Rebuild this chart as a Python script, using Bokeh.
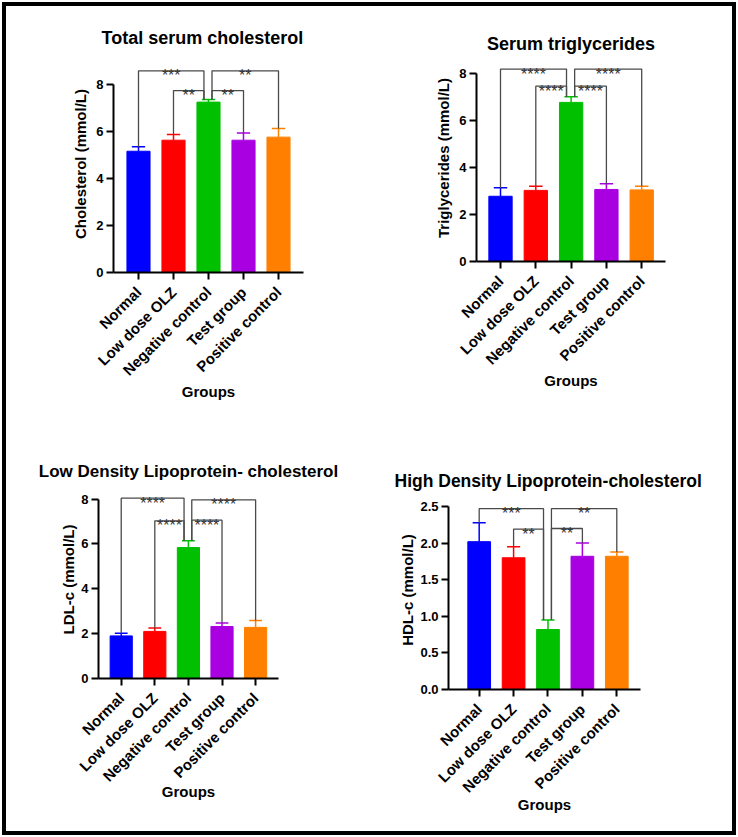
import math

from bokeh.core.properties import value
from bokeh.embed import file_html
from bokeh.layouts import column, row
from bokeh.models import ColumnDataSource, FixedTicker, NumeralTickFormatter
from bokeh.plotting import figure
from bokeh.resources import INLINE

# ---------------------------------------------------------------- data
groups = ["Normal", "Low dose OLZ", "Negative control", "Test group", "Positive control"]
bar_colors = ["#0000FF", "#FF0000", "#00C000", "#A800E0", "#FF8000"]

# mean and upper error (SD) for each group, mmol/L
chol_mean = [5.16, 5.63, 7.25, 5.63, 5.76]
chol_err = [0.19, 0.24, 0.11, 0.31, 0.37]

tg_mean = [2.78, 3.03, 6.78, 3.07, 3.05]
tg_err = [0.36, 0.18, 0.24, 0.24, 0.16]

ldl_mean = [1.90, 2.10, 5.84, 2.32, 2.28]
ldl_err = [0.12, 0.15, 0.30, 0.16, 0.31]

hdl_mean = [2.02, 1.80, 0.82, 1.82, 1.82]
hdl_err = [0.26, 0.15, 0.13, 0.18, 0.06]

# significance brackets: (group a, group b, bracket height, label)
chol_sig = [(0, 2, 8.58, "***"), (1, 2, 7.74, "**"), (2, 3, 7.74, "**"), (2, 4, 8.58, "**")]
tg_sig = [(0, 2, 8.20, "****"), (1, 2, 7.47, "****"), (2, 3, 7.47, "****"), (2, 4, 8.20, "****")]
ldl_sig = [(0, 2, 8.04, "****"), (1, 2, 7.03, "****"), (2, 3, 7.06, "****"), (2, 4, 7.97, "****")]
hdl_sig = [(0, 2, 2.47, "***"), (1, 2, 2.19, "**"), (2, 3, 2.20, "**"), (2, 4, 2.47, "**")]

chol_ticks = [0, 2, 4, 6, 8]
tg_ticks = [0, 2, 4, 6, 8]
ldl_ticks = [0, 2, 4, 6, 8]
hdl_ticks = [0.0, 0.5, 1.0, 1.5, 2.0, 2.5]

FONT = "Liberation Sans"
REF = 2  # the group every bracket is drawn against


def bar_panel(title, ylabel, means, errs, sig, yticks, y_end, x_lim, borders,
              size, title_size="18px", title_standoff=0, title_offset=None,
              ylab_standoff=4, xlab_standoff=8, fmt=None):
    left, right, top, bottom = borders
    width, height = size
    p = figure(width=width, height=height, x_range=x_lim, y_range=(0, y_end),
               output_backend="svg", toolbar_location=None,
               min_border_left=left, min_border_right=right,
               min_border_top=top, min_border_bottom=bottom)
    p.frame_align = False
    p.background_fill_alpha = 0
    p.border_fill_alpha = 0
    p.outline_line_color = None
    p.grid.visible = False

    p.title.text = title
    if title_offset is None:
        p.title.align = "center"
    else:
        p.title.align = "left"
        p.title.offset = title_offset
    p.title.text_font = FONT
    p.title.text_font_size = title_size
    p.title.text_font_style = "bold"
    p.title.text_color = "black"
    p.title.standoff = title_standoff

    xs = list(range(len(groups)))
    tops = [m + e for m, e in zip(means, errs)]
    src = ColumnDataSource(dict(x=xs, mean=means, top=tops, color=bar_colors,
                                cl=[x - 0.19 for x in xs], cr=[x + 0.19 for x in xs]))
    p.vbar(x="x", top="mean", bottom=0, width=0.66, fill_color="color",
           line_color="color", line_width=1, source=src)
    p.segment(x0="x", y0="mean", x1="x", y1="top", line_color="color",
              line_width=1.5, source=src)
    p.segment(x0="cl", y0="top", x1="cr", y1="top", line_color="color",
              line_width=1.5, source=src)

    # significance brackets
    bx, by, tx, ty, tt = [], [], [], [], []
    for a, b, h, lab in sig:
        xa = a + 0.1 if a == REF else a
        xb = b - 0.13 if b == REF else b
        bx.append([xa, xa, xb, xb])
        by.append([tops[a], h, h, tops[b]])
        tx.append((xa + xb) / 2)
        ty.append(h)
        tt.append(lab)
    p.multi_line(xs=bx, ys=by, line_color="#4a4a4a", line_width=1.3)
    p.text(x=tx, y=ty, text=tt, text_font=value(FONT), text_font_size="16px",
           text_color="#333333", text_align="center", text_baseline="alphabetic",
           y_offset=5)

    # axes
    yax = p.yaxis[0]
    yax.ticker = FixedTicker(ticks=yticks)
    yax.bounds = (yticks[0], yticks[-1])
    if fmt:
        yax.formatter = NumeralTickFormatter(format=fmt)
    yax.axis_label = ylabel
    yax.axis_label_standoff = ylab_standoff

    xax = p.xaxis[0]
    xax.ticker = FixedTicker(ticks=xs)
    xax.major_label_overrides = {i: g for i, g in enumerate(groups)}
    xax.major_label_orientation = math.pi / 4
    xax.axis_label = "Groups"
    xax.axis_label_standoff = xlab_standoff

    for ax in (xax, yax):
        ax.axis_line_width = 2
        ax.axis_line_color = "black"
        ax.major_tick_line_width = 2
        ax.major_tick_line_color = "black"
        ax.major_tick_in = 0
        ax.major_tick_out = 7
        ax.minor_tick_line_color = None
        ax.major_label_text_font = FONT
        ax.major_label_text_font_style = "bold"
        ax.major_label_text_color = "black"
        ax.axis_label_text_font = FONT
        ax.axis_label_text_font_style = "bold"
        ax.axis_label_text_font_size = "15px"
        ax.axis_label_text_color = "black"
    yax.major_label_standoff = 3
    xax.major_label_standoff = 10
    yax.major_label_text_font_size = "13px"
    xax.major_label_text_font_size = "15px"
    return p


TOP_H, BOTTOM_H, COL_W = 424, 413, 369

p1 = bar_panel("Total serum cholesterol", "Cholesterol (mmol/L)", chol_mean, chol_err,
               chol_sig, chol_ticks, 9.234, (-0.714, 4.714), (113, 66, 55, 152),
               (COL_W, TOP_H), title_standoff=16, title_offset=-12, xlab_standoff=-5)
p2 = bar_panel("Serum triglycerides", "Triglycerides (mmol/L)", tg_mean, tg_err,
               tg_sig, tg_ticks, 8.82, (-0.68, 4.674), (107, 73, 54, 163),
               (COL_W, TOP_H), title_standoff=2, xlab_standoff=-5)
p3 = bar_panel("Low Density Lipoprotein- cholesterol", "LDL-c (mmol/L)", ldl_mean, ldl_err,
               ldl_sig, ldl_ticks, 8.83, (-0.676, 4.681), (98, 91, 56, 159),
               (COL_W, BOTTOM_H), title_size="17px", title_standoff=0,
               ylab_standoff=1, xlab_standoff=-11)
p4 = bar_panel("High Density Lipoprotein-cholesterol", "HDL-c (mmol/L)", hdl_mean, hdl_err,
               hdl_sig, hdl_ticks, 2.719, (-0.892, 4.689), (79, 98, 66, 148),
               (COL_W, BOTTOM_H), title_size="17.5px", title_standoff=0,
               title_offset=-54, ylab_standoff=1, xlab_standoff=-9, fmt="0.0")

page = column(row(p1, p2), row(p3, p4),
              styles={"background-color": "white", "outline": "4px solid black",
                      "outline-offset": "-6px"})

open("out.html", "w").write(file_html(page, INLINE))
